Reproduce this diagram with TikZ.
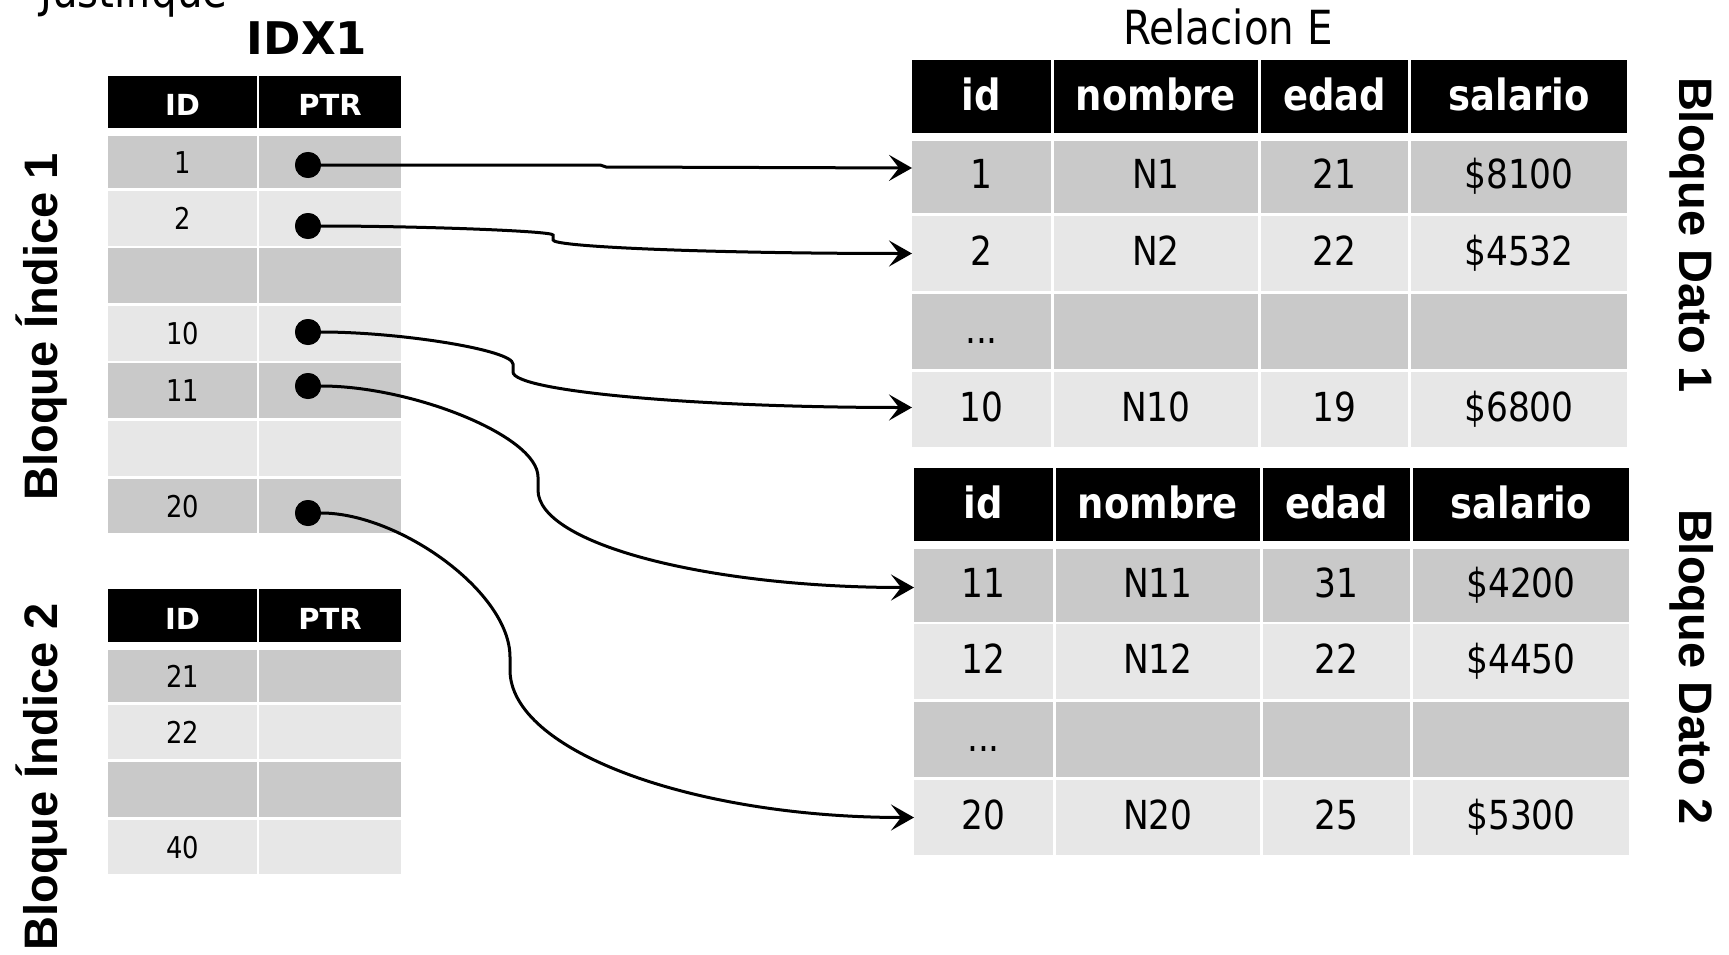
\documentclass[tikz,border=0pt]{standalone}
\usepackage{fontspec}
\setmainfont{DejaVu Sans}
\newfontfamily\cellfamily[FakeStretch=0.86]{DejaVu Sans}
\newfontfamily\sidefamily{Liberation Sans}
\usetikzlibrary{arrows.meta}
\definecolor{dgray}{RGB}{201,201,201}
\definecolor{lgray}{RGB}{231,231,231}
\newcommand\mkcell[7]{%
  \node[#6, minimum width={(#4)-(#2)}, minimum height={(#5)-(#3)}] (#1) at ({((#2)+(#4))/2},{((#3)+(#5))/2}) {#7};}
\newcommand\mydots{...}
\begin{document}
\begin{tikzpicture}[x=1pt,y=-1pt,
  cellbase/.style={inner sep=0pt, outer sep=0pt, draw=none, anchor=center},
  dcell/.style={cellbase, font=\cellfamily\fontsize{40}{48}\selectfont, text height=23pt, text depth=0pt},
  dhead/.style={cellbase, fill=black, text=white, font=\cellfamily\bfseries\fontsize{43}{50}\selectfont, text height=28pt, text depth=0pt},
  icell/.style={cellbase, font=\cellfamily\fontsize{30}{36}\selectfont, text height=22pt, text depth=0pt},
  ihead/.style={cellbase, fill=black, text=white, font=\bfseries\fontsize{29}{35}\selectfont, text height=27pt, text depth=0pt},
  side/.style={font=\sidefamily\bfseries\fontsize{47}{56}\selectfont, anchor=base, inner sep=0pt},
  ttl/.style={font=\cellfamily\fontsize{47}{56}\selectfont, anchor=base, inner sep=0pt},
  idxttl/.style={font=\bfseries\fontsize{45}{54}\selectfont, anchor=base, inner sep=0pt},
  dot/.style={circle, fill=black, minimum size=26pt, inner sep=0pt},
  conn/.style={line width=3pt, -{Stealth[length=23pt,width=26pt,inset=10pt]}},
]
\useasboundingbox (0,0) rectangle (1729,955);

% titles
\node[ttl, anchor=base west] (just) at (40,8) {Justifique};
\node[idxttl] (idx) at (307,55) {IDX1};
\node[ttl] (rel) at (1228,45) {Relacion E};

% side labels
\node[side, rotate=90] (bi1) at (57,327) {Bloque Índice 1};
\node[side, rotate=90] (bi2) at (57,777) {Bloque Índice 2};
\node[side, rotate=-90] (bd1) at (1679,235) {Bloque Dato 1};
\node[side, rotate=-90] (bd2) at (1679,667) {Bloque Dato 2};

% index table 1
\mkcell{ih1-1}{108}{76}{257}{128}{ihead}{ID}
\mkcell{ih1-2}{259}{76}{401}{128}{ihead}{PTR}
\foreach \nm/\ya/\yb/\fc/\a in {1/136/188/dgray/1, 2/191/246/lgray/2, 3/248/303/dgray/{}, 4/306/361/lgray/10, 5/363/418/dgray/11, 6/421/476/lgray/{}, 7/479/533/dgray/20}{
  \mkcell{i\nm-1}{108}{\ya}{257}{\yb}{icell,fill=\fc}{\a}
  \mkcell{i\nm-2}{259}{\ya}{401}{\yb}{icell,fill=\fc}{}
}

% index table 2
\mkcell{ih2-1}{108}{589}{257}{642}{ihead}{ID}
\mkcell{ih2-2}{259}{589}{401}{642}{ihead}{PTR}
\foreach \nm/\ya/\yb/\fc/\a in {1/650/702/dgray/21, 2/705/759/lgray/22, 3/762/817/dgray/{}, 4/820/874/lgray/40}{
  \mkcell{j\nm-1}{108}{\ya}{257}{\yb}{icell,fill=\fc}{\a}
  \mkcell{j\nm-2}{259}{\ya}{401}{\yb}{icell,fill=\fc}{}
}

% data table 1
\mkcell{ah-1}{912}{60}{1051}{133}{dhead}{id}
\mkcell{ah-2}{1054}{60}{1258}{133}{dhead}{nombre}
\mkcell{ah-3}{1261}{60}{1408}{133}{dhead}{edad}
\mkcell{ah-4}{1411}{60}{1627}{133}{dhead}{salario}
\foreach \nm/\ya/\yb/\fc/\a/\b/\c/\d in {1/141/213/dgray/1/N1/21/{\$8100}, 2/216/291/lgray/2/N2/22/{\$4532}, 3/294/369/dgray/\mydots/{}/{}/{}, 4/372/447/lgray/10/N10/19/{\$6800}}{
  \mkcell{a\nm-1}{912}{\ya}{1051}{\yb}{dcell,fill=\fc}{\a}
  \mkcell{a\nm-2}{1054}{\ya}{1258}{\yb}{dcell,fill=\fc}{\b}
  \mkcell{a\nm-3}{1261}{\ya}{1408}{\yb}{dcell,fill=\fc}{\c}
  \mkcell{a\nm-4}{1411}{\ya}{1627}{\yb}{dcell,fill=\fc}{\d}
}

% data table 2
\mkcell{bh-1}{914}{468}{1053}{541}{dhead}{id}
\mkcell{bh-2}{1056}{468}{1260}{541}{dhead}{nombre}
\mkcell{bh-3}{1263}{468}{1410}{541}{dhead}{edad}
\mkcell{bh-4}{1413}{468}{1629}{541}{dhead}{salario}
\foreach \nm/\ya/\yb/\fc/\a/\b/\c/\d in {1/549/622/dgray/11/N11/31/{\$4200}, 2/624/699/lgray/12/N12/22/{\$4450}, 3/702/777/dgray/\mydots/{}/{}/{}, 4/780/855/lgray/20/N20/25/{\$5300}}{
  \mkcell{b\nm-1}{914}{\ya}{1053}{\yb}{dcell,fill=\fc}{\a}
  \mkcell{b\nm-2}{1056}{\ya}{1260}{\yb}{dcell,fill=\fc}{\b}
  \mkcell{b\nm-3}{1263}{\ya}{1410}{\yb}{dcell,fill=\fc}{\c}
  \mkcell{b\nm-4}{1413}{\ya}{1629}{\yb}{dcell,fill=\fc}{\d}
}

% pointer dots
\node[dot] (p1) at (308,165) {};
\node[dot] (p2) at (308,226) {};
\node[dot] (p3) at (308,332) {};
\node[dot] (p4) at (308,386) {};
\node[dot] (p5) at (308,513) {};

% targets and bends
\coordinate (t1) at ([yshift=9pt]a1-1.west);
\coordinate (t2) at (a2-1.west);
\coordinate (t3) at ([yshift=2pt]a4-1.west);
\coordinate (t4) at ([yshift=-2pt]b1-1.west);
\coordinate (t5) at (b4-1.west);
\coordinate (m1a) at (600,165); \coordinate (m1b) at (606,167);
\coordinate (m2a) at (553,235); \coordinate (m2b) at (553,240);
\coordinate (m3a) at (513,364); \coordinate (m3b) at (513,372);
\coordinate (m4a) at (538,477); \coordinate (m4b) at (538,490);
\coordinate (m5a) at (510,657); \coordinate (m5b) at (510,670);

% connectors
\draw[conn] (p1) -- (m1a) -- (m1b) -- (t1);
\draw[conn] (p2) .. controls +(110,0) and +(0,-4) .. (m2a) -- (m2b) .. controls +(0,7) and +(-197,0) .. (t2);
\draw[conn] (p3) .. controls +(92,0) and +(0,-14) .. (m3a) -- (m3b) .. controls +(0,19) and +(-219,0) .. (t3);
\draw[conn] (p4) .. controls +(104,0) and +(0,-41) .. (m4a) -- (m4b) .. controls +(0,54) and +(-206,0) .. (t4);
\draw[conn] (p5) .. controls +(91,0) and +(0,-65) .. (m5a) -- (m5b) .. controls +(0,81) and +(-221,0) .. (t5);

% redraw dots on top
\foreach \p in {p1,p2,p3,p4,p5}{ \fill (\p) circle (13pt); }
\end{tikzpicture}
\end{document}
